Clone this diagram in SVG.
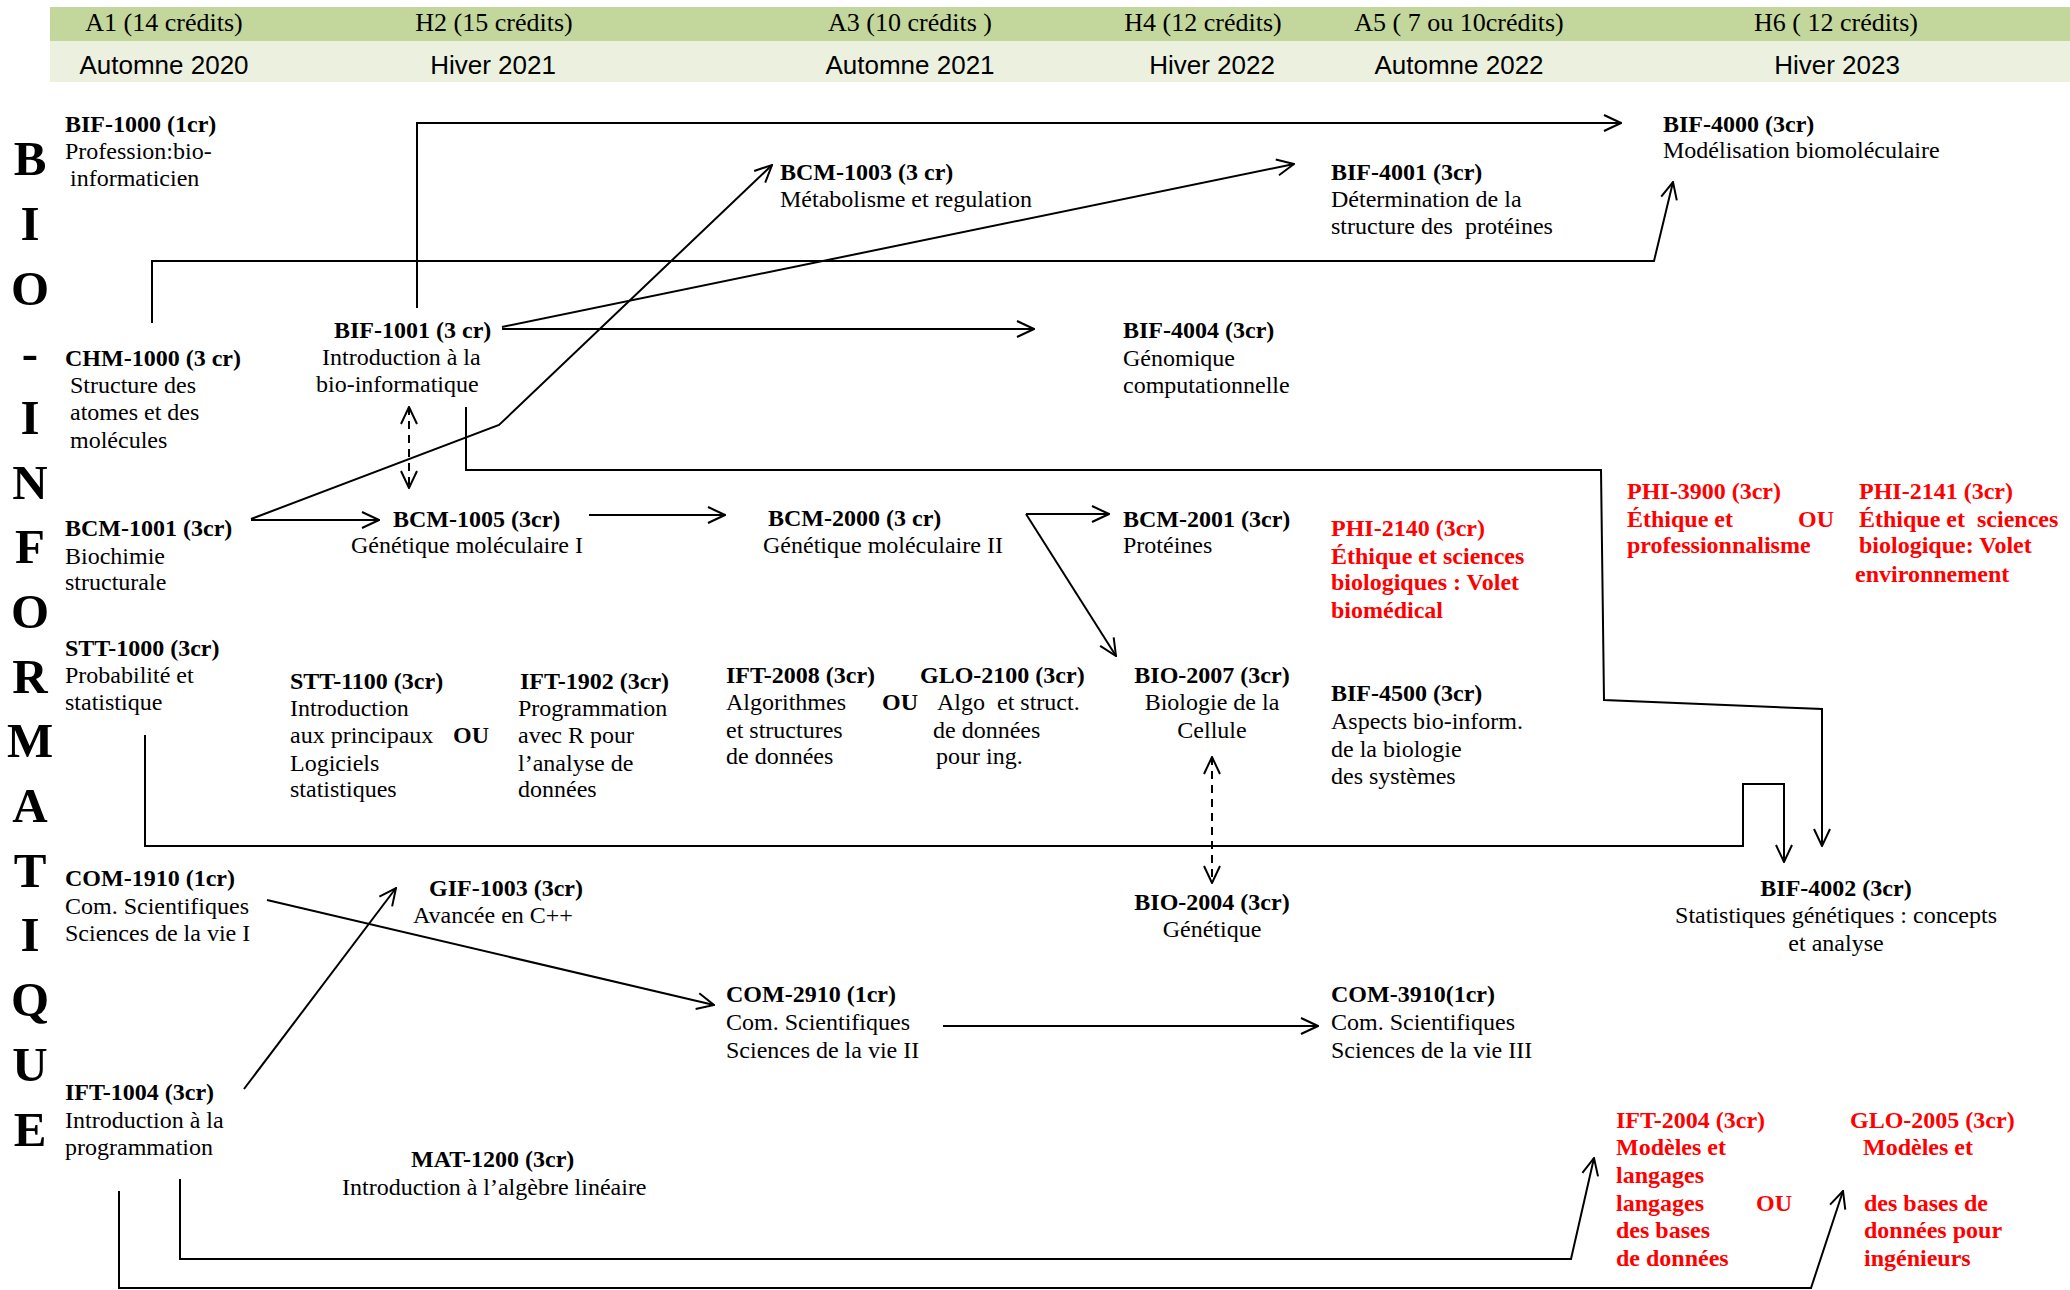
<svg xmlns="http://www.w3.org/2000/svg" width="2070" height="1290" viewBox="0 0 2070 1290">
<style>
text{font-family:"Liberation Serif","Times New Roman",serif;font-size:24px;fill:#000}
.b{font-weight:bold}
.red{font-weight:bold;fill:#ff0000}
.c{text-anchor:middle}
.hd{font-size:26px;text-anchor:middle}
.hs{font-family:"Liberation Sans",Arial,sans-serif;font-size:26px;text-anchor:middle}
.big{font-weight:bold;font-size:49px;text-anchor:middle}
.ln{fill:none;stroke:#000;stroke-width:2}
.ar{marker-end:url(#ah)}
.da{stroke-dasharray:8,6;marker-start:url(#ahs);marker-end:url(#ah)}
</style>
<defs>
<marker id="ah" viewBox="0 0 20 20" refX="19" refY="10" markerWidth="20" markerHeight="20" markerUnits="userSpaceOnUse" orient="auto">
<path d="M2,2 L19,10 L2,18" fill="none" stroke="#000" stroke-width="2"/>
</marker>
<marker id="ahs" viewBox="0 0 20 20" refX="19" refY="10" markerWidth="20" markerHeight="20" markerUnits="userSpaceOnUse" orient="auto-start-reverse">
<path d="M2,2 L19,10 L2,18" fill="none" stroke="#000" stroke-width="2"/>
</marker>
</defs>
<rect width="2070" height="1290" fill="#fff"/>
<g id="header">
<rect x="50" y="7" width="2020" height="34" fill="#c3d69b"/>
<rect x="50" y="41" width="2020" height="41" fill="#ebf1de"/>
<text class="hd" x="164" y="31">A1 (14 crédits)</text>
<text class="hd" x="494" y="31">H2 (15 crédits)</text>
<text class="hd" x="910" y="31">A3 (10 crédits )</text>
<text class="hd" x="1203" y="31">H4 (12 crédits)</text>
<text class="hd" x="1459" y="31">A5 ( 7 ou 10crédits)</text>
<text class="hd" x="1836" y="31">H6 ( 12 crédits)</text>
<text class="hs" x="164" y="74">Automne 2020</text>
<text class="hs" x="493" y="74">Hiver 2021</text>
<text class="hs" x="910" y="74">Automne 2021</text>
<text class="hs" x="1212" y="74">Hiver 2022</text>
<text class="hs" x="1459" y="74">Automne 2022</text>
<text class="hs" x="1837" y="74">Hiver 2023</text>
</g>
<g id="title">
<text class="big" x="30" y="175">B</text>
<text class="big" x="30" y="240">I</text>
<text class="big" x="30" y="305">O</text>
<text class="big" x="30" y="369">-</text>
<text class="big" x="30" y="434">I</text>
<text class="big" x="30" y="499">N</text>
<text class="big" x="30" y="563">F</text>
<text class="big" x="30" y="628">O</text>
<text class="big" x="30" y="693">R</text>
<text class="big" x="30" y="757">M</text>
<text class="big" x="30" y="822">A</text>
<text class="big" x="30" y="887">T</text>
<text class="big" x="30" y="951">I</text>
<text class="big" x="30" y="1016">Q</text>
<text class="big" x="30" y="1081">U</text>
<text class="big" x="30" y="1146">E</text>
</g>
<g id="connectors">
<polyline class="ln ar" points="417,308 417,123 1621,123"/>
<polyline class="ln ar" points="152,323 152,261 1654,261 1673,182"/>
<line class="ln ar" x1="502" y1="327" x2="1294" y2="164"/>
<line class="ln ar" x1="502" y1="329" x2="1034" y2="329"/>
<polyline class="ln ar" points="251,519 499,425 772,165"/>
<line class="ln ar" x1="251" y1="520" x2="379" y2="520"/>
<line class="ln da" x1="409" y1="407" x2="409" y2="488"/>
<polyline class="ln ar" points="466,407 466,470 1601,470 1604,700 1822,709 1822,846"/>
<line class="ln ar" x1="589" y1="515" x2="725" y2="515"/>
<line class="ln ar" x1="1026" y1="514" x2="1109" y2="514"/>
<line class="ln ar" x1="1026" y1="514" x2="1116" y2="656"/>
<line class="ln da" x1="1212" y1="757" x2="1212" y2="883"/>
<polyline class="ln ar" points="145,735 145,846 1743,846 1743,784 1784,784 1784,862"/>
<line class="ln ar" x1="267" y1="900" x2="714" y2="1005"/>
<line class="ln ar" x1="244" y1="1089" x2="396" y2="888"/>
<line class="ln ar" x1="943" y1="1026" x2="1318" y2="1026"/>
<polyline class="ln ar" points="180,1179 180,1259 1571,1259 1594,1158"/>
<polyline class="ln ar" points="119,1191 119,1288 1811,1288 1843,1191"/>
</g>
<g id="BIF-1000"><text class="b" x="65" y="132">BIF-1000 (1cr)</text><text x="65" y="159">Profession:bio-</text><text x="70" y="186">informaticien</text></g>
<g id="CHM-1000"><text class="b" x="65" y="366">CHM-1000 (3 cr)</text><text x="70" y="393">Structure des</text><text x="70" y="420">atomes et des</text><text x="70" y="448">molécules</text></g>
<g id="BIF-1001"><text class="b" x="334" y="338">BIF-1001 (3 cr)</text><text x="322" y="365">Introduction à la</text><text x="316" y="392">bio-informatique</text></g>
<g id="BCM-1003"><text class="b" x="780" y="180">BCM-1003 (3 cr)</text><text x="780" y="207">Métabolisme et regulation</text></g>
<g id="BIF-4001"><text class="b" x="1331" y="180">BIF-4001 (3cr)</text><text x="1331" y="207">Détermination de la</text><text x="1331" y="234" xml:space="preserve">structure des  protéines</text></g>
<g id="BIF-4000"><text class="b" x="1663" y="132">BIF-4000 (3cr)</text><text x="1663" y="158">Modélisation biomoléculaire</text></g>
<g id="BIF-4004"><text class="b" x="1123" y="338">BIF-4004 (3cr)</text><text x="1123" y="366">Génomique</text><text x="1123" y="393">computationnelle</text></g>
<g id="BCM-1001"><text class="b" x="65" y="536">BCM-1001 (3cr)</text><text x="65" y="564">Biochimie</text><text x="65" y="590">structurale</text></g>
<g id="BCM-1005"><text class="b" x="393" y="527">BCM-1005 (3cr)</text><text x="351" y="553">Génétique moléculaire I</text></g>
<g id="BCM-2000"><text class="b" x="768" y="526">BCM-2000 (3 cr)</text><text x="763" y="553">Génétique moléculaire II</text></g>
<g id="BCM-2001"><text class="b" x="1123" y="527">BCM-2001 (3cr)</text><text x="1123" y="553">Protéines</text></g>
<g id="PHI-2140"><text class="red" x="1331" y="536">PHI-2140 (3cr)</text><text class="red" x="1331" y="564">Éthique et sciences</text><text class="red" x="1331" y="590">biologiques : Volet</text><text class="red" x="1331" y="618">biomédical</text></g>
<g id="PHI-3900"><text class="red" x="1627" y="499">PHI-3900 (3cr)</text><text class="red" x="1627" y="527">Éthique et</text><text class="red" x="1798" y="527">OU</text><text class="red" x="1627" y="553">professionnalisme</text></g>
<g id="PHI-2141"><text class="red" x="1859" y="499">PHI-2141 (3cr)</text><text class="red" x="1859" y="527" xml:space="preserve">Éthique et  sciences</text><text class="red" x="1859" y="553">biologique: Volet</text><text class="red" x="1855" y="582">environnement</text></g>
<g id="STT-1000"><text class="b" x="65" y="656">STT-1000 (3cr)</text><text x="65" y="683">Probabilité et</text><text x="65" y="710">statistique</text></g>
<g id="STT-1100"><text class="b" x="290" y="689">STT-1100 (3cr)</text><text x="290" y="716">Introduction</text><text x="290" y="743">aux principaux</text><text class="b" x="453" y="743">OU</text><text x="290" y="771">Logiciels</text><text x="290" y="797">statistiques</text></g>
<g id="IFT-1902"><text class="b" x="520" y="689">IFT-1902 (3cr)</text><text x="518" y="716">Programmation</text><text x="518" y="743">avec R pour</text><text x="518" y="771">l’analyse de</text><text x="518" y="797">données</text></g>
<g id="IFT-2008"><text class="b" x="726" y="683">IFT-2008 (3cr)</text><text x="726" y="710">Algorithmes</text><text class="b" x="882" y="710">OU</text><text x="726" y="738">et structures</text><text x="726" y="764">de données</text></g>
<g id="GLO-2100"><text class="b" x="920" y="683">GLO-2100 (3cr)</text><text x="937" y="710" xml:space="preserve">Algo  et struct.</text><text x="933" y="738">de données</text><text x="936" y="764">pour ing.</text></g>
<g id="BIO-2007"><text class="b c" x="1212" y="683">BIO-2007 (3cr)</text><text class="c" x="1212" y="710">Biologie de la</text><text class="c" x="1212" y="738">Cellule</text></g>
<g id="BIF-4500"><text class="b" x="1331" y="701">BIF-4500 (3cr)</text><text x="1331" y="729">Aspects bio-inform.</text><text x="1331" y="757">de la biologie</text><text x="1331" y="784">des systèmes</text></g>
<g id="COM-1910"><text class="b" x="65" y="886">COM-1910 (1cr)</text><text x="65" y="914">Com. Scientifiques</text><text x="65" y="941">Sciences de la vie I</text></g>
<g id="GIF-1003"><text class="b" x="429" y="896">GIF-1003 (3cr)</text><text x="413" y="923">Avancée en C++</text></g>
<g id="BIO-2004"><text class="b c" x="1212" y="910">BIO-2004 (3cr)</text><text class="c" x="1212" y="937">Génétique</text></g>
<g id="BIF-4002"><text class="b c" x="1836" y="896">BIF-4002 (3cr)</text><text class="c" x="1836" y="923">Statistiques génétiques : concepts</text><text class="c" x="1836" y="951">et analyse</text></g>
<g id="COM-2910"><text class="b" x="726" y="1002">COM-2910 (1cr)</text><text x="726" y="1030">Com. Scientifiques</text><text x="726" y="1058">Sciences de la vie II</text></g>
<g id="COM-3910"><text class="b" x="1331" y="1002">COM-3910(1cr)</text><text x="1331" y="1030">Com. Scientifiques</text><text x="1331" y="1058">Sciences de la vie III</text></g>
<g id="IFT-1004"><text class="b" x="65" y="1100">IFT-1004 (3cr)</text><text x="65" y="1128">Introduction à la</text><text x="65" y="1155">programmation</text></g>
<g id="MAT-1200"><text class="b" x="411" y="1167">MAT-1200 (3cr)</text><text x="342" y="1195">Introduction à l’algèbre linéaire</text></g>
<g id="IFT-2004"><text class="red" x="1616" y="1128">IFT-2004 (3cr)</text><text class="red" x="1616" y="1155">Modèles et</text><text class="red" x="1616" y="1183">langages</text><text class="red" x="1616" y="1211">langages</text><text class="red" x="1756" y="1211">OU</text><text class="red" x="1616" y="1238">des bases</text><text class="red" x="1616" y="1266">de données</text></g>
<g id="GLO-2005"><text class="red" x="1850" y="1128">GLO-2005 (3cr)</text><text class="red" x="1863" y="1155">Modèles et</text><text class="red" x="1864" y="1211">des bases de</text><text class="red" x="1864" y="1238">données pour</text><text class="red" x="1864" y="1266">ingénieurs</text></g>
</svg>
